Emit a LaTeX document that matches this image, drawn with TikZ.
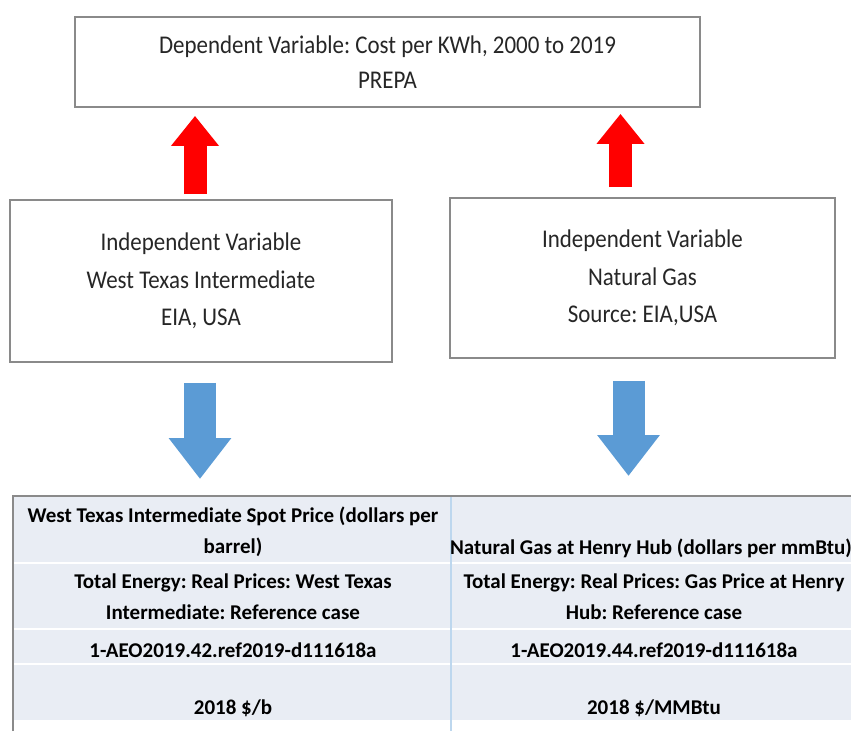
\documentclass[tikz,border=0pt]{standalone}
\usepackage{fontspec}
\setmainfont{Carlito}
\newfontfamily\boxfont[FakeStretch=0.9]{Carlito}
\usetikzlibrary{arrows.meta}
\definecolor{framegray}{HTML}{8A8A8A}
\definecolor{uparrow}{HTML}{FF0000}
\definecolor{downarrow}{HTML}{5B9BD5}
\definecolor{tablefill}{HTML}{E9EDF4}
\definecolor{tablerule}{HTML}{BDD7EE}
\definecolor{boxtext}{HTML}{262626}
\frenchspacing

\tikzset{
  varbox/.style={draw=framegray, line width=1.8pt, align=center, text=boxtext},
  redup/.style={draw=uparrow, line width=23pt, -{Triangle[width=46pt,length=30pt]}},
  bluedown/.style={draw=downarrow, line width=32pt, -{Triangle[width=60pt,length=41pt]}},
  celltext/.style={align=center, font=\bfseries\fontsize{21}{31}\selectfont, text=black}
}

\begin{document}
\begin{tikzpicture}[x=1pt, y=-1pt]
\clip (0,0) rectangle (851,731);
\node[varbox, minimum width=625pt, minimum height=90pt, font=\boxfont\fontsize{25.5}{35}\selectfont] (dep) at (387.5,62) {Dependent Variable: Cost per KWh, 2000 to 2019\\PREPA};
\node[varbox, minimum width=382pt, minimum height=162pt, font=\boxfont\fontsize{25.5}{37.5}\selectfont] (wti) at (201,281) {Independent Variable\\West Texas Intermediate\\EIA, USA};
\node[varbox, minimum width=385pt, minimum height=160pt, font=\boxfont\fontsize{25.5}{37.5}\selectfont] (ng) at (642.5,278) {Independent Variable\\Natural Gas\\Source: EIA,USA};

\node[fill=tablefill, minimum width=844pt, minimum height=224pt, anchor=north west, inner sep=0pt] (tbl) at (13,496) {};
\foreach \y in {563,629,664}
  \draw[white, line width=2pt] (13,\y) -- (857,\y);
\draw[tablerule, line width=1.5pt] (451,496) -- (451,731);
\draw[framegray, line width=1.5pt] (13,731) -- (tbl.north west) -- (857,496);

\node[celltext] (wtihead) at (233,532) {West Texas Intermediate Spot Price (dollars per\\barrel)};
\node[celltext] (nghead) at (651,548) {Natural Gas at Henry Hub (dollars per mmBtu)};
\node[celltext] (wtiname) at (233,597) {Total Energy: Real Prices: West Texas\\Intermediate: Reference case};
\node[celltext] (ngname) at (654,597) {Total Energy: Real Prices: Gas Price at Henry\\Hub: Reference case};
\node[celltext] (wtiid) at (233,650) {1-AEO2019.42.ref2019-d111618a};
\node[celltext] (ngid) at (654,650) {1-AEO2019.44.ref2019-d111618a};
\node[celltext] (wtiunit) at (233,708) {2018 \$/b};
\node[celltext] (ngunit) at (654,708) {2018 \$/MMBtu};

\coordinate (wtiup) at ([xshift=-6pt]wti.north);
\coordinate (ngup) at ([xshift=-22pt]ng.north);
\coordinate (wtidown) at ([xshift=-1pt]wti.south);
\coordinate (ngdown) at ([xshift=-14pt]ng.south);
\draw[redup, shorten <=5pt, shorten >=8pt] (wtiup) -- (wtiup |- dep.south);
\draw[redup, shorten <=10pt, shorten >=6pt] (ngup) -- (ngup |- dep.south);
\draw[bluedown, shorten <=20pt, shorten >=17pt] (wtidown) -- (wtidown |- tbl.north);
\draw[bluedown, shorten <=22pt, shorten >=20pt] (ngdown) -- (ngdown |- tbl.north);
\end{tikzpicture}
\end{document}
